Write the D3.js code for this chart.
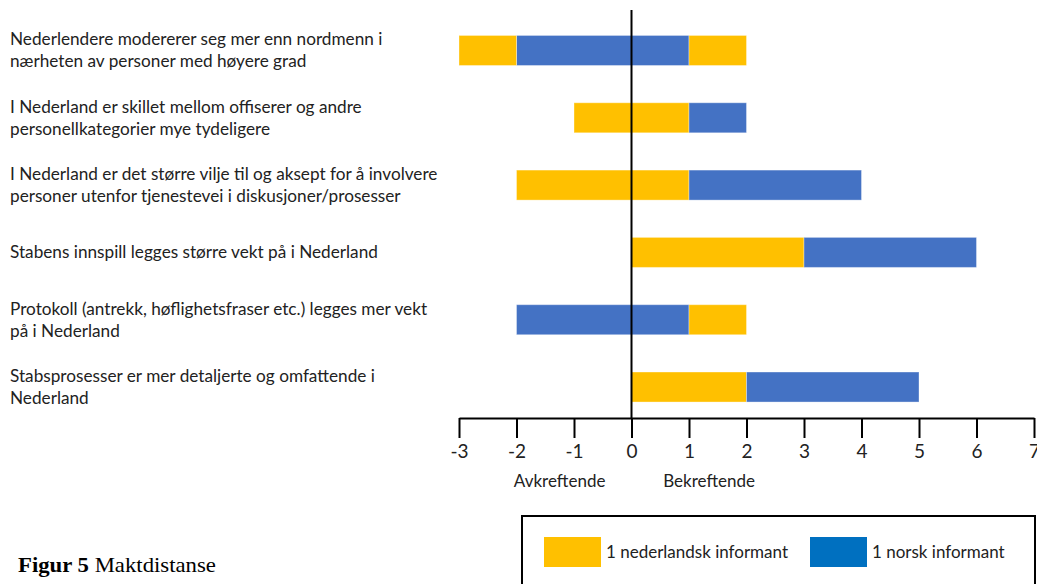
<!DOCTYPE html>
<html>
<head>
<meta charset="utf-8">
<script src="https://cdn.jsdelivr.net/npm/d3@7"></script>
<style>
  html, body { margin: 0; padding: 0; background: #fff; }
  svg { display: block; }
</style>
</head>
<body>
<svg id="chart" width="1037" height="584"></svg>
<script>
// Statements (line breaks as drawn)
const categories = [
  "Nederlendere modererer seg mer enn nordmenn i\nnærheten av personer med høyere grad",
  "I Nederland er skillet mellom offiserer og andre\npersonellkategorier mye tydeligere",
  "I Nederland er det større vilje til og aksept for å involvere\npersoner utenfor tjenestevei i diskusjoner/prosesser",
  "Stabens innspill legges større vekt på i Nederland",
  "Protokoll (antrekk, høflighetsfraser etc.) legges mer vekt\npå i Nederland",
  "Stabsprosesser er mer detaljerte og omfattende i\nNederland"
];

// Disagreeing informants, stacked outward from 0 (left side)
const negNorsk = [2, 0, 0, 0, 2, 0];
const negNederlandsk = [1, 1, 2, 0, 0, 0];
// Agreeing informants, stacked outward from 0 (right side)
const posNorskInner = [1, 0, 0, 0, 1, 0];
const posNederlandsk = [1, 1, 1, 3, 1, 2];
const posNorskOuter = [0, 1, 3, 3, 0, 3];

const tickValues = [-3, -2, -1, 0, 1, 2, 3, 4, 5, 6, 7];
const sideLabels = [{ text: "Avkreftende", at: -1.25 }, { text: "Bekreftende", at: 1.35 }];
const legendItems = [
  { label: "1 nederlandsk informant", color: "#FFC000" },
  { label: "1 norsk informant", color: "#0070C0" }
];

const YELLOW = "#FFC000", BLUE = "#4472C4";
const FONT = "Lato, 'Open Sans', sans-serif";

const svg = d3.select("#chart");

const x = d3.scaleLinear().domain([-3, 7]).range([459, 1034]);
const y = d3.scaleBand().domain(categories).range([22, 415.5])
  .paddingInner(0.554).paddingOuter(0.2);

// Build segments per series, stacking outward from zero
const negSeries = [{ v: negNorsk, c: BLUE }, { v: negNederlandsk, c: YELLOW }];
const posSeries = [{ v: posNorskInner, c: BLUE }, { v: posNederlandsk, c: YELLOW }, { v: posNorskOuter, c: BLUE }];
const segments = [];
categories.forEach((cat, i) => {
  let acc = 0;
  negSeries.forEach(s => {
    if (s.v[i] > 0) segments.push({ cat, x0: -(acc + s.v[i]), x1: -acc, color: s.c });
    acc += s.v[i];
  });
  acc = 0;
  posSeries.forEach(s => {
    if (s.v[i] > 0) segments.push({ cat, x0: acc, x1: acc + s.v[i], color: s.c });
    acc += s.v[i];
  });
});

svg.append("g").selectAll("rect")
  .data(segments)
  .join("rect")
  .attr("x", d => x(d.x0))
  .attr("width", d => x(d.x1) - x(d.x0))
  .attr("y", d => y(d.cat))
  .attr("height", y.bandwidth())
  .attr("fill", d => d.color)
  .attr("stroke", "rgba(255,255,255,0.35)")
  .attr("stroke-width", 1);

// Zero line
svg.append("line")
  .attr("x1", x(0)).attr("x2", x(0))
  .attr("y1", 10).attr("y2", 418)
  .attr("stroke", "#000").attr("stroke-width", 2);

// Category labels
const labels = svg.append("g").selectAll("text")
  .data(categories)
  .join("text")
  .attr("x", 10)
  .attr("font-family", FONT)
  .attr("font-size", 17.2)
  .attr("fill", "#222");
labels.each(function (d) {
  const lines = d.split("\n");
  const cy = y(d) + y.bandwidth() / 2;
  const lh = 22;
  const top = cy - (lines.length - 1) * lh / 2;
  d3.select(this).selectAll("tspan")
    .data(lines)
    .join("tspan")
    .attr("x", 10)
    .attr("y", (l, k) => top + k * lh)
    .attr("dy", "0.35em")
    .text(l => l);
});

// Horizontal axis
const axis = d3.axisBottom(x).tickValues(tickValues).tickSize(20).tickSizeOuter(0)
  .tickFormat(d => String(d));
const gAxis = svg.append("g").attr("transform", "translate(0,418)").call(axis);
gAxis.select(".domain").attr("stroke", "#000").attr("stroke-width", 2);
gAxis.selectAll(".tick line").attr("stroke", "#000").attr("stroke-width", 2);
gAxis.selectAll(".tick text")
  .attr("font-family", FONT).attr("font-size", 19).attr("fill", "#222")
  .attr("dy", "0.95em").attr("y", 22);

svg.append("g").selectAll("text")
  .data(sideLabels)
  .join("text")
  .attr("x", d => x(d.at))
  .attr("y", 481)
  .attr("dy", "0.35em")
  .attr("text-anchor", "middle")
  .attr("font-family", FONT).attr("font-size", 17).attr("fill", "#222")
  .text(d => d.text);

// Legend
svg.append("rect")
  .attr("x", 522).attr("y", 516).attr("width", 513).attr("height", 80)
  .attr("fill", "none").attr("stroke", "#000").attr("stroke-width", 2);
const legendX = [544, 810];
const lg = svg.append("g").selectAll("g")
  .data(legendItems)
  .join("g")
  .attr("transform", (d, i) => `translate(${legendX[i]},537)`);
lg.append("rect").attr("width", 57).attr("height", 30).attr("fill", d => d.color);
lg.append("text")
  .attr("x", 62).attr("y", 15).attr("dy", "0.35em")
  .attr("font-family", FONT).attr("font-size", 17).attr("fill", "#222")
  .text(d => d.label);

// Figure caption
const cap = svg.append("text")
  .attr("x", 0).attr("y", 0)
  .attr("font-family", "'Liberation Serif', 'Times New Roman', serif")
  .attr("font-size", 20).attr("fill", "#000");
cap.append("tspan").attr("font-weight", "bold").text("Figur 5");
cap.append("tspan").text(" Maktdistanse");
const capW = cap.node().getComputedTextLength();
cap.attr("transform", `translate(18,572) scale(${198 / capW},1)`);
</script>
</body>
</html>
